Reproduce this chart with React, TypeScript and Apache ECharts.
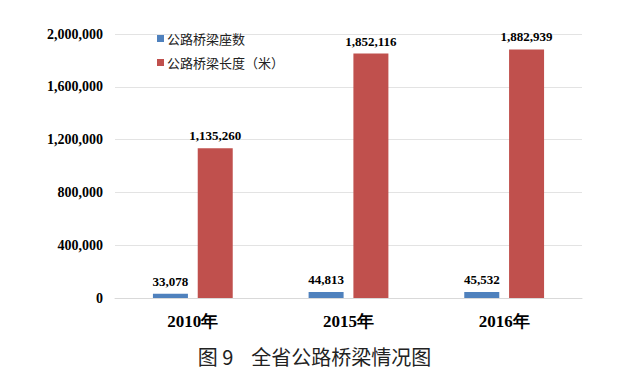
import React, { useEffect, useRef } from "react";
import * as echarts from "echarts";

const categories = ["2010年", "2015年", "2016年"];
const bridgeCount = [33078, 44813, 45532];
const bridgeLength = [1135260, 1852116, 1882939];
const seriesNames = ["公路桥梁座数", "公路桥梁长度（米）"];
const chartTitle = "图 9    全省公路桥梁情况图";

const fmt = (v: number) => v.toLocaleString("en-US");
const serif = "'Liberation Serif', 'Times New Roman', 'DejaVu Serif', serif";
const cjk = "'Noto Sans CJK SC', sans-serif";

export default function App() {
  const ref = useRef<HTMLDivElement>(null);
  useEffect(() => {
    if (!ref.current) return;
    const chart = echarts.init(ref.current, null, { renderer: "svg" });
    chart.setOption({
      animation: false,
      backgroundColor: "#ffffff",
      title: {
        text: chartTitle,
        left: "center",
        top: 341,
        textStyle: { fontFamily: cjk, fontSize: 20, fontWeight: "normal", color: "#222" },
      },
      legend: {
        orient: "vertical",
        left: 152,
        top: 27,
        itemWidth: 7,
        itemHeight: 7,
        itemGap: 11,
        icon: "rect",
        data: seriesNames,
        textStyle: { fontFamily: cjk, fontSize: 13, color: "#222", padding: [0, 0, 0, -2] },
      },
      grid: { left: 115, right: 47, top: 34, bottom: 87 },
      xAxis: {
        type: "category",
        data: categories,
        axisTick: { show: false },
        axisLine: { lineStyle: { color: "#d9d9d9" } },
        axisLabel: {
          fontFamily: serif,
          fontWeight: "bold",
          fontSize: 17,
          color: "#000",
          margin: 15,
        },
      },
      yAxis: {
        type: "value",
        min: 0,
        max: 2000000,
        interval: 400000,
        axisLine: { show: false },
        axisTick: { show: false },
        splitLine: { lineStyle: { color: "#e3e3e3" } },
        axisLabel: {
          formatter: (v: number) => fmt(v),
          fontFamily: serif,
          fontWeight: "bold",
          fontSize: 14,
          color: "#000",
          margin: 12,
        },
      },
      series: [
        {
          name: seriesNames[0],
          type: "bar",
          data: bridgeCount,
          barWidth: 35,
          barGap: "28%",
          itemStyle: { color: "#4F81BD" },
          label: {
            show: true,
            position: "top",
            distance: 6,
            formatter: (p: any) => fmt(p.value),
            fontFamily: serif,
            fontWeight: "bold",
            fontSize: 13,
            color: "#000",
          },
        },
        {
          name: seriesNames[1],
          type: "bar",
          data: bridgeLength,
          barWidth: 35,
          itemStyle: { color: "#C0504D" },
          label: {
            show: true,
            position: "top",
            distance: 6,
            formatter: (p: any) => fmt(p.value),
            fontFamily: serif,
            fontWeight: "bold",
            fontSize: 13,
            color: "#000",
          },
        },
      ],
    });
    return () => chart.dispose();
  }, []);
  return (
    <div
      ref={ref}
      style={{ position: "fixed", left: 0, top: 0, width: 629, height: 385 }}
    />
  );
}
